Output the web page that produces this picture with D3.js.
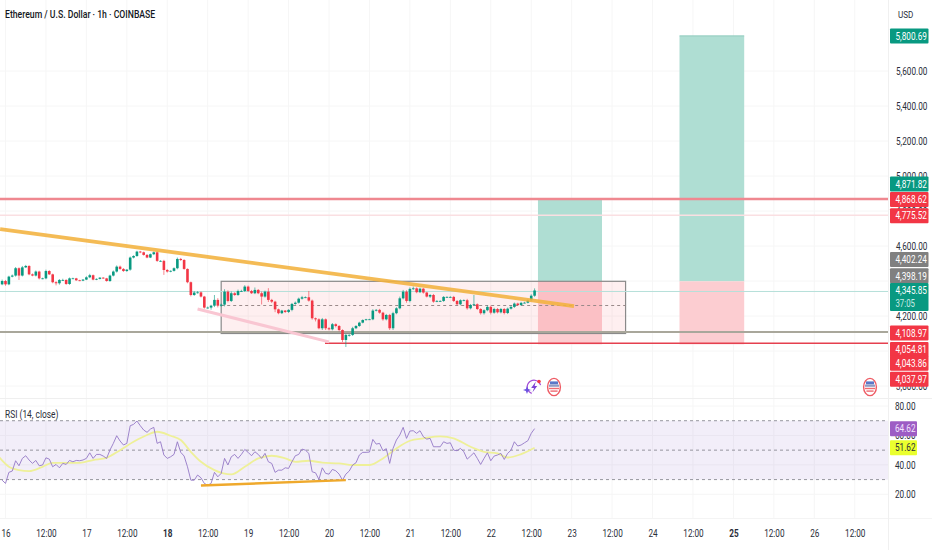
<!DOCTYPE html>
<html><head><meta charset="utf-8">
<script src="https://cdn.jsdelivr.net/npm/d3@7/dist/d3.min.js"></script>
<style>html,body{margin:0;padding:0;background:#fff}svg{display:block;font-family:Roboto,"Liberation Sans",sans-serif}</style>
</head><body><svg id="c" width="932" height="550"></svg>
<script>
const closes=[4400,4381,4425,4431,4473,4431,4478,4486,4438,4431,4454,4415,4415,4457,4438,4393,4387,4406,4406,4383,4415,4415,4404,4402,4408,4421,4433,4408,4412,4419,4415,4400,4431,4454,4482,4469,4457,4465,4534,4543,
4568,4564,4549,4534,4553,4564,4515,4515,4463,4454,4458,4473,4526,4520,4469,4393,4320,4334,4335,4311,4248,4248,4259,4292,4259,4265,4339,4286,4330,4320,4343,4343,4368,4343,4330,4349,4330,4311,4339,4292,
4282,4238,4216,4231,4223,4235,4269,4276,4299,4307,4307,4288,4187,4181,4130,4181,4130,4124,4153,4143,4120,4063,4092,4092,4130,4143,4162,4177,4181,4181,4231,4235,4219,4181,4206,4130,4216,4244,4301,4339,
4286,4355,4358,4336,4356,4334,4311,4320,4282,4286,4286,4309,4309,4309,4286,4267,4290,4290,4244,4263,4267,4240,4216,4233,4252,4219,4240,4221,4240,4217,4242,4252,4271,4263,4275,4276,4290,4316,4345.85];
const wickUp=[8,6,5,6,7,5,8,6,4,5,6,5,4,8,5,4,6,5,7,4,5,4,3,3,3,6,8,4,3,3,3,3,5,6,7,6,5,3,6,4,
5,4,4,5,4,5,6,4,6,5,3,5,8,6,5,3,4,8,7,5,4,6,5,28,10,6,14,8,10,6,8,7,8,6,6,14,5,10,6,20,
6,5,4,4,3,4,6,7,6,8,5,36,6,4,6,8,5,6,7,5,5,4,5,4,8,5,5,4,3,3,8,5,6,5,6,6,8,6,10,10,
8,8,10,6,6,5,4,5,6,5,4,5,4,4,6,5,5,5,8,6,53,5,5,5,8,8,7,6,6,6,6,8,6,5,6,5,6,8,12];
const wickDn=[5,8,5,4,6,25,5,4,5,4,5,6,5,5,4,6,12,8,6,5,5,4,3,3,3,3,5,4,3,3,3,4,5,5,6,5,5,5,6,5,
5,5,4,4,3,5,6,5,28,6,4,4,6,6,5,6,8,5,6,5,6,6,12,8,10,6,10,8,6,5,5,5,6,6,4,5,5,45,6,12,
8,16,6,5,6,6,8,5,5,5,5,6,8,12,6,10,10,6,6,8,8,12,40,10,6,5,5,4,3,3,5,5,6,8,6,10,10,6,6,6,
10,8,6,6,5,6,5,8,6,3,5,5,4,4,6,5,6,5,8,6,5,6,8,8,6,10,6,6,6,8,6,5,6,5,6,3,4,6,6];
const rsi=[29.6,27.4,34.9,35.8,42.8,39.4,44.4,46.2,43.3,41,43,39.4,39.9,44.8,43.9,38.7,40.3,38,41,40.3,43,42.1,43,42.8,43.3,44.4,48.2,44.4,47.1,47.1,46,44.4,50.1,54.6,59.8,56.2,53.5,54.6,66.6,67.5,69.8,66.6,63.7,62.1,64.3,65.5,54.6,55.7,46.7,44.4,45.5,47.1,55.7,48.5,46,38.7,29.6,29.6,33.1,31.2,27.4,26.2,27.4,34.9,31.9,34.2,44.4,39.9,45.5,47.1,44.4,47.1,50.5,48.5,46.2,48.9,47.1,44.4,47.8,42.1,41,34.9,36.4,36.4,38,37.6,42.1,46.2,47.1,
50.7,50,47.8,35.3,34.6,30.1,38,34.2,33.7,36.9,36,33.7,29.6,33.7,35.8,39.9,41.4,46.7,48.5,48.5,48.7,57.3,54.1,54.6,49.6,51,41,51.2,56.9,60.3,65.5,58,63,63.2,61.4,63.2,59.1,57.5,58,52.3,52.3,52.3,55.7,54.6,55,50,49.6,51.2,48.9,43.9,46,48.2,44.4,40.3,44.4,48.2,42.8,46,46.7,47.8,43.7,47.8,50,55.7,52.8,53.5,55,56.4,61.4,64.62];
const maCandle=[-1,2,5,8,12,15,19,23,27,31,35,39,43,46,50,53,56,59,63,68,72,76,80,84,87,91,95,100,104,109,113,117,121,125,130,134,139,143,147,150,154,158];
const maValue=[45.5,38.7,36.4,35.8,38.7,41.4,41.4,41.4,43.3,44.8,50,55.7,60.3,62.5,59.8,56.9,48.9,42.1,36.4,33.5,38.7,44.4,46.2,44.4,42.1,42.8,41.5,41,39.9,39.9,44.4,51.2,56.4,58,59.4,58,52.3,48.9,47.8,45,47.3,51.62];

const priceGrid=[5600,5400,5200,5000,4800,4600,4400,4200,4000,3800];
const priceTicks=[5600,5400,5200,5000,4800,4600,4200,3800];
const rsiTicks=[80,60,40,20];
const timeHours=[0,12,24,36,48,60,72,84,96,108,120,132,144,156,168,180,192,204,216,228,240,252];
const timeLabels=["16","12:00","17","12:00","18","12:00","19","12:00","20","12:00","21","12:00","22","12:00","23","12:00","24","12:00","25","12:00","26","12:00"];
const boldLabels=["18","25"];

const priceLabels=[5800.69,4871.82,4868.62,4775.52,4402.24,4398.19,4345.85,4108.97,4054.81,4043.86,4037.97];
const priceLabelColors=["#089981","#089981","#f23645","#f23645","#808080","#808080","#089981","#f23645","#f23645","#f23645","#f23645"];
const hLevels=[4868.62,4775.52,4345.85,4108.97,4043.86];

const boxA={h0:158,h1:177,top:4868.62,mid:4398.19,bottom:4037.97};
const boxB={h0:200,h1:219.2,top:5800.69,mid:4398.19,bottom:4037.97};
const rangeBox={h0:64,h1:184,top:4398.19,mid:4260,bottom:4100};
const trendMain=[[-1.6,4697],[168.7,4257]];
const trendPink=[[57,4240],[96,4052]];
const trendRsi=[[58,26],[101,29.6]];

const W=932,plotR=888;
const svg=d3.select("#c");
const x=d3.scaleLinear().domain([0,240]).range([5.5,814.3]);
const y=d3.scaleLinear().domain([4600,5600]).range([246,71]);
const yr=d3.scaleLinear().domain([80,20]).range([406,494.3]);
const lbl=v=>d3.format(",.2f")(v);
// reference glyphs are horizontally condensed: scale each text about its own anchor
function squeeze(sel,k){sel.each(function(){
  const ax0=+(this.getAttribute("x")||0);
  const prev=this.getAttribute("transform")||"";
  this.setAttribute("transform",`${prev} translate(${ax0},0) scale(${k},1) translate(${-ax0},0)`);
});}
const K=.78;

// grid
const g=svg.append("g").attr("stroke","#f6f6f6").attr("stroke-width",1);
g.selectAll(".v").data(timeHours).join("line").attr("x1",d=>x(d)).attr("x2",d=>x(d)).attr("y1",0).attr("y2",518);
g.selectAll(".h").data(priceGrid).join("line").attr("x1",0).attr("x2",plotR).attr("y1",d=>y(d)).attr("y2",d=>y(d));
g.selectAll(".r").data(rsiTicks).join("line").attr("x1",0).attr("x2",plotR).attr("y1",d=>yr(d)).attr("y2",d=>yr(d));
svg.append("line").attr("x1",0).attr("x2",W).attr("y1",398.5).attr("y2",398.5).attr("stroke","#efefef");
svg.append("line").attr("x1",0).attr("x2",W).attr("y1",518.5).attr("y2",518.5).attr("stroke","#f4f4f4");
svg.append("line").attr("x1",plotR+.5).attr("x2",plotR+.5).attr("y1",0).attr("y2",550).attr("stroke","#f0f0f0");

// boxes
[boxA,boxB].forEach(b=>{
  svg.append("rect").attr("x",x(b.h0)).attr("width",x(b.h1)-x(b.h0)).attr("y",y(b.top)).attr("height",y(b.mid)-y(b.top)).attr("fill","#afded3");
  svg.append("rect").attr("x",x(b.h0)).attr("width",x(b.h1)-x(b.h0)).attr("y",y(b.mid)).attr("height",y(b.bottom)-y(b.mid)).attr("fill","#fccdd1");
  svg.append("line").attr("x1",x(b.h0)).attr("x2",x(b.h1)).attr("y1",y(b.top)).attr("y2",y(b.top)).attr("stroke","#8fcbbd").attr("stroke-width",1);
});
svg.append("rect").attr("x",x(rangeBox.h0)).attr("width",x(rangeBox.h1)-x(rangeBox.h0)).attr("y",y(rangeBox.top)).attr("height",y(rangeBox.bottom)-y(rangeBox.top))
  .attr("fill","#f23645").attr("fill-opacity",.08).attr("stroke","#8a8a8a").attr("stroke-width",1.2);
svg.append("line").attr("x1",x(rangeBox.h0)).attr("x2",x(rangeBox.h1)).attr("y1",y(rangeBox.mid)).attr("y2",y(rangeBox.mid)).attr("stroke","#9a8a8a").attr("stroke-dasharray","3 3");

// levels
const lvl=[{c:"#ef8890",w:2.4,x0:0},{c:"#fadfe2",w:1.5,x0:0},{c:"#b5e0d9",w:1,x0:0},{c:"#a9a79b",w:2,x0:0},{c:"#e5404f",w:1.5,x0:325}];
svg.append("g").selectAll("line").data(hLevels).join("line").attr("x1",(d,i)=>lvl[i].x0).attr("x2",plotR)
  .attr("y1",d=>y(d)+(d===4345.85?1:0)).attr("y2",d=>y(d)+(d===4345.85?1:0)).attr("stroke",(d,i)=>lvl[i].c).attr("stroke-width",(d,i)=>lvl[i].w);

// pink trend (under candles)
svg.append("line").attr("x1",x(trendPink[0][0])).attr("y1",y(trendPink[0][1])).attr("x2",x(trendPink[1][0])).attr("y2",y(trendPink[1][1])).attr("stroke","#f9c6d2").attr("stroke-width",3);

// candles
const cg=svg.append("g");
closes.forEach((c,i)=>{
  const o=i?closes[i-1]:4381, hi=Math.max(o,c)+wickUp[i], lo=Math.min(o,c)-wickDn[i];
  const col=c>=o?"#089981":"#f23645", cx=x(i-1);
  cg.append("line").attr("x1",cx).attr("x2",cx).attr("y1",y(hi)).attr("y2",y(lo)).attr("stroke",col).attr("stroke-opacity",.75).attr("stroke-width",.8);
  const t=y(Math.max(o,c)), b=y(Math.min(o,c));
  cg.append("rect").attr("x",cx-1.3).attr("width",2.6).attr("y",t).attr("height",Math.max(b-t,.8)).attr("fill",col);
});

// main trend
svg.append("line").attr("x1",x(trendMain[0][0])).attr("y1",y(trendMain[0][1])).attr("x2",x(trendMain[1][0])).attr("y2",y(trendMain[1][1])).attr("stroke","#f3b23e").attr("stroke-width",3.8).attr("stroke-opacity",.88);

// RSI
svg.append("rect").attr("x",0).attr("width",plotR).attr("y",yr(70)).attr("height",yr(30)-yr(70)).attr("fill","#7e57c2").attr("fill-opacity",.1);
[70,50,30].forEach(v=>svg.append("line").attr("x1",0).attr("x2",plotR).attr("y1",yr(v)).attr("y2",yr(v)).attr("stroke","#8b8b94").attr("stroke-width",.9).attr("stroke-dasharray","3 3"));
svg.append("path").attr("fill","none").attr("stroke","#eef098").attr("stroke-width",1.8).attr("d",d3.line().curve(d3.curveMonotoneX).x(d=>x(d[0]-1)).y(d=>yr(d[1]))(maCandle.map((c,i)=>[c,maValue[i]])));
svg.append("path").attr("fill","none").attr("stroke","#9478c6").attr("stroke-width",.9).attr("d",d3.line().x((d,i)=>x(i-1)).y(d=>yr(d))(rsi));
svg.append("line").attr("x1",x(trendRsi[0][0])).attr("y1",yr(trendRsi[0][1])).attr("x2",x(trendRsi[1][0])).attr("y2",yr(trendRsi[1][1])).attr("stroke","#efa92c").attr("stroke-width",2.4);

// axes
const font="Roboto,'Liberation Sans',sans-serif";
const ax=d3.axisRight(y).tickValues(priceTicks).tickSize(0).tickPadding(0).tickFormat(lbl);
const ag=svg.append("g").attr("transform","translate(896,0)").call(ax);
ag.select(".domain").remove();
ag.selectAll("text").attr("font-size",10.5).attr("font-family",font).attr("fill","#2a2e39").call(squeeze,K);
const ar=d3.axisRight(yr).tickValues(rsiTicks).tickSize(0).tickPadding(0).tickFormat(d3.format(".2f"));
const arg=svg.append("g").attr("transform","translate(895,0)").call(ar);
arg.select(".domain").remove();
arg.selectAll("text").attr("font-size",10.5).attr("font-family",font).attr("fill","#2a2e39").call(squeeze,K);
const at=d3.axisBottom(x).tickValues(timeHours).tickSize(0).tickPadding(0).tickFormat((d,i)=>timeLabels[i]);
const atg=svg.append("g").attr("transform","translate(0,530)").call(at);
atg.select(".domain").remove();
atg.selectAll("text").attr("font-size",10.5).attr("font-family",font).attr("fill","#2a2e39")
  .attr("font-weight",(d,i)=>boldLabels.includes(timeLabels[i])?700:400).call(squeeze,K);

// price labels
const nudge=[0,-14.5,.5,.5,-21,-5.5,0,1,8,20,35];
const pl=svg.append("g");
priceLabels.forEach((v,i)=>{
  const cy=y(v)+nudge[i], tall=v===4345.85;
  pl.append("rect").attr("x",890).attr("width",38.5).attr("y",cy-7.5).attr("height",tall?28:15).attr("rx",1).attr("fill",priceLabelColors[i]);
  pl.append("text").attr("x",895.5).attr("y",cy+3.7).attr("font-size",10.5).attr("font-family",font).attr("fill","#fff").text(lbl(v)).call(squeeze,K);
  if(tall) pl.append("text").attr("x",895.5).attr("y",cy+16.6).attr("font-size",10).attr("font-family",font).attr("fill","#c8ebe5").text("37:05").call(squeeze,K);
});
const rl=[{v:64.62,f:"#9d5cc4",t:"#f3e3ff"},{v:51.62,f:"#eaff2e",t:"#2a2e39"}];
rl.forEach(r=>{
  svg.append("rect").attr("x",890).attr("width",27).attr("y",yr(r.v)-7.5).attr("height",15).attr("rx",1).attr("fill",r.f);
  svg.append("text").attr("x",895).attr("y",yr(r.v)+3.7).attr("font-size",10.5).attr("font-family",font).attr("fill",r.t).text(r.v.toFixed(2)).call(squeeze,K);
});

// title texts
svg.append("text").attr("x",5).attr("y",18.5).attr("font-size",10.2).attr("font-weight",500).attr("font-family",font).attr("fill","#131722").text("Ethereum / U.S. Dollar · 1h · COINBASE").call(squeeze,.85);
svg.append("text").attr("x",898).attr("y",18.5).attr("font-size",9.5).attr("font-family",font).attr("fill","#2a2e39").text("USD").call(squeeze,.85);
svg.append("text").attr("x",5).attr("y",418.5).attr("font-size",10.5).attr("font-family",font).attr("fill","#2a2e39").text("RSI (14, close)").call(squeeze,.8);

// event icons
function flag(cx,cy){
  const f=svg.append("g").attr("transform",`translate(${cx},${cy})`);
  f.append("ellipse").attr("rx",6.4).attr("ry",8.6).attr("fill","#fff").attr("stroke","#ee5a63").attr("stroke-width",1.4);
  f.append("rect").attr("x",-4).attr("y",-5.6).attr("width",8).attr("height",3).attr("fill","#5a78c8");
  f.append("rect").attr("x",-5).attr("y",-2.4).attr("width",10).attr("height",2.2).attr("fill","#8f9cc4");
  f.append("rect").attr("x",-5).attr("y",.8).attr("width",10).attr("height",1.4).attr("fill","#ee6a72");
  f.append("rect").attr("x",-3.6).attr("y",3.4).attr("width",7.2).attr("height",1.4).attr("fill","#ee6a72");
}
flag(554,387);flag(870,387);
const z=svg.append("g").attr("transform","translate(534,387)");
z.append("path").attr("d",d3.arc().innerRadius(6.2).outerRadius(7.4).startAngle(-2.8).endAngle(1.3)()).attr("fill","#a24ad6");
z.append("path").attr("d","M1.8,-5.6 L-2.8,1 L0,1 L-1.6,5.6 L3.2,-1 L0.6,-1 Z").attr("fill","#7d3fd6");
z.append("circle").attr("cx",5).attr("cy",-5.5).attr("r",1.8).attr("fill","#f23645");
z.append("path").attr("d","M-7,-1 L-5.9,1.9 L-3,3 L-5.9,4.1 L-7,7 L-8.1,4.1 L-11,3 L-8.1,1.9 Z").attr("fill","#6b4fe0");
</script></body></html>
